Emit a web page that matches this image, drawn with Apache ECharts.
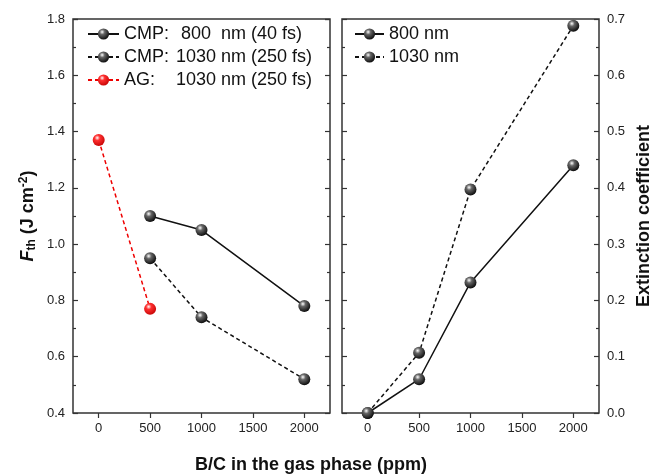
<!DOCTYPE html>
<html>
<head>
<meta charset="utf-8">
<script src="https://cdn.jsdelivr.net/npm/echarts@6/dist/echarts.min.js"></script>
<style>
  html, body { margin: 0; padding: 0; background: #fff; }
  #main { width: 653px; height: 474px; }
</style>
</head>
<body>
<div id="main"></div>
<script>
// B/C in the gas phase (ppm)
var bc = [0, 500, 1000, 2000];

// left panel: threshold fluence (J cm^-2)
var cmp800 = [null, 1.10, 1.05, 0.78];
var cmp1030 = [null, 0.95, 0.74, 0.52];
var ag1030 = [1.37, 0.77, null, null];

// right panel: extinction coefficient
var ext800 = [0, 0.06, 0.232, 0.44];
var ext1030 = [0, 0.107, 0.397, 0.688];

var xTicks = [0, 500, 1000, 1500, 2000];

function pairs(ys) {
    var out = [];
    for (var i = 0; i < bc.length; i++) {
        if (ys[i] != null) out.push([bc[i], ys[i]]);
    }
    return out;
}

var ball = {
    type: 'radial', x: 0.38, y: 0.32, r: 0.75,
    colorStops: [
        {offset: 0, color: '#ffffff'},
        {offset: 0.3, color: '#666666'},
        {offset: 1, color: '#000000'}
    ]
};
var redBall = {
    type: 'radial', x: 0.38, y: 0.32, r: 0.75,
    colorStops: [
        {offset: 0, color: '#ffffff'},
        {offset: 0.3, color: '#ff3030'},
        {offset: 1, color: '#c00000'}
    ]
};

var frame = '#333';
var font = 'Liberation Sans, Arial, sans-serif';

function xAxis(idx) {
    return {
        gridIndex: idx, type: 'value', min: -250, max: 2250,
        interval: 500,
        axisLine: {show: false, onZero: false},
        axisTick: {show: true, inside: false, length: 5, lineStyle: {color: frame, width: 1.2},
            customValues: xTicks},
        axisLabel: {color: '#222', fontSize: 13, fontFamily: font, margin: 9,
            customValues: xTicks, formatter: function (v) { return String(v); }},
        splitLine: {show: false}
    };
}

function yAxis(idx, pos, min, max, labels) {
    return {
        gridIndex: idx, type: 'value', position: pos, min: min, max: max,
        interval: (max - min) / 7,
        axisLine: {show: false, onZero: false},
        axisTick: {show: true, inside: true, length: 5, lineStyle: {color: frame, width: 1.2}},
        minorTick: {show: true, splitNumber: 2, length: 3, lineStyle: {color: frame, width: 1.2}},
        axisLabel: {show: labels, color: '#222', fontSize: 13, fontFamily: font, margin: 8,
            formatter: function (v) { return v.toFixed(1); }},
        splitLine: {show: false}
    };
}

var chart = echarts.init(document.getElementById('main'));

var option = {
    backgroundColor: '#fff',
    animation: false,
    grid: [
        {left: 73, top: 19, width: 257, height: 394, show: true, borderColor: frame, borderWidth: 1.5,
            outerBoundsMode: 'none'},
        {left: 342, top: 19, width: 257, height: 394, show: true, borderColor: frame, borderWidth: 1.5,
            outerBoundsMode: 'none'}
    ],
    graphic: [{
        type: 'text', x: 311, y: 465,
        style: {
            text: 'B/C in the gas phase (ppm)', align: 'center', verticalAlign: 'middle',
            fontSize: 18, fontWeight: 'bold', fill: '#111', fontFamily: font
        }
    }],
    legend: [
        {
            left: 87, top: 25, padding: 0, orient: 'vertical', itemWidth: 31, itemHeight: 14, itemGap: 5,
            data: ['CMP800', 'CMP1030', 'AG1030'],
            textStyle: {fontSize: 18, lineHeight: 18, color: '#111', fontFamily: font,
                rich: {
                    p: {fontSize: 18, width: 52, fontFamily: font, color: '#111'},
                    w: {fontSize: 18, width: 40, align: 'right', fontFamily: font, color: '#111'},
                    t: {fontSize: 18, fontFamily: font, color: '#111'}
                }},
            formatter: function (name) {
                if (name === 'CMP800') return '{p|CMP:}{w|800}{t| nm (40 fs)}';
                if (name === 'CMP1030') return '{p|CMP:}{w|1030}{t| nm (250 fs)}';
                return '{p|AG:}{w|1030}{t| nm (250 fs)}';
            }
        },
        {
            left: 354, top: 25, padding: 0, orient: 'vertical', itemWidth: 29, itemHeight: 14, itemGap: 5,
            data: ['800 nm', '1030 nm'],
            textStyle: {fontSize: 18, lineHeight: 18, color: '#111', fontFamily: font}
        }
    ],
    xAxis: [xAxis(0), xAxis(1)],
    yAxis: [
        Object.assign(yAxis(0, 'left', 0.4, 1.8, true), {
            name: '{f|F}{s|th}{n| (J cm}{u|-2}{n|)}',
            nameLocation: 'middle', nameGap: 35, nameRotate: 90,
            nameTextStyle: {
                rich: {
                    f: {fontSize: 18, fontWeight: 'bold', fontStyle: 'italic', fontFamily: font, color: '#111'},
                    s: {fontSize: 12, fontWeight: 'bold', fontFamily: font, color: '#111', verticalAlign: 'bottom', padding: [8, 0, 0, 0]},
                    n: {fontSize: 18, fontWeight: 'bold', fontFamily: font, color: '#111'},
                    u: {fontSize: 12, fontWeight: 'bold', fontFamily: font, color: '#111', verticalAlign: 'top', padding: [0, 0, 8, 0]}
                }
            }
        }),
        yAxis(0, 'right', 0.4, 1.8, false),
        yAxis(1, 'left', 0, 0.7, false),
        Object.assign(yAxis(1, 'right', 0, 0.7, true), {
            name: 'Extinction coefficient',
            nameLocation: 'middle', nameGap: 36, nameRotate: 90,
            nameTextStyle: {fontSize: 18, fontWeight: 'bold', color: '#111', fontFamily: font}
        })
    ],
    series: [
        {
            name: 'CMP800', type: 'line', xAxisIndex: 0, yAxisIndex: 0,
            data: pairs(cmp800), symbol: 'circle', symbolSize: 12,
            lineStyle: {color: '#111', width: 1.5, type: 'solid'},
            itemStyle: {color: ball, borderWidth: 0}
        },
        {
            name: 'CMP1030', type: 'line', xAxisIndex: 0, yAxisIndex: 0,
            data: pairs(cmp1030), symbol: 'circle', symbolSize: 12,
            lineStyle: {color: '#111', width: 1.5, type: [4, 3]},
            itemStyle: {color: ball, borderWidth: 0}
        },
        {
            name: 'AG1030', type: 'line', xAxisIndex: 0, yAxisIndex: 0,
            data: pairs(ag1030), symbol: 'circle', symbolSize: 12,
            lineStyle: {color: '#ee0000', width: 1.5, type: [4, 3]},
            itemStyle: {color: redBall, borderWidth: 0}
        },
        {
            name: '800 nm', type: 'line', xAxisIndex: 1, yAxisIndex: 3,
            data: pairs(ext800), symbol: 'circle', symbolSize: 12,
            lineStyle: {color: '#111', width: 1.5, type: 'solid'},
            itemStyle: {color: ball, borderWidth: 0}
        },
        {
            name: '1030 nm', type: 'line', xAxisIndex: 1, yAxisIndex: 3,
            data: pairs(ext1030), symbol: 'circle', symbolSize: 12,
            lineStyle: {color: '#111', width: 1.5, type: [4, 3]},
            itemStyle: {color: ball, borderWidth: 0}
        }
    ]
};

chart.setOption(option);
</script>
</body>
</html>
